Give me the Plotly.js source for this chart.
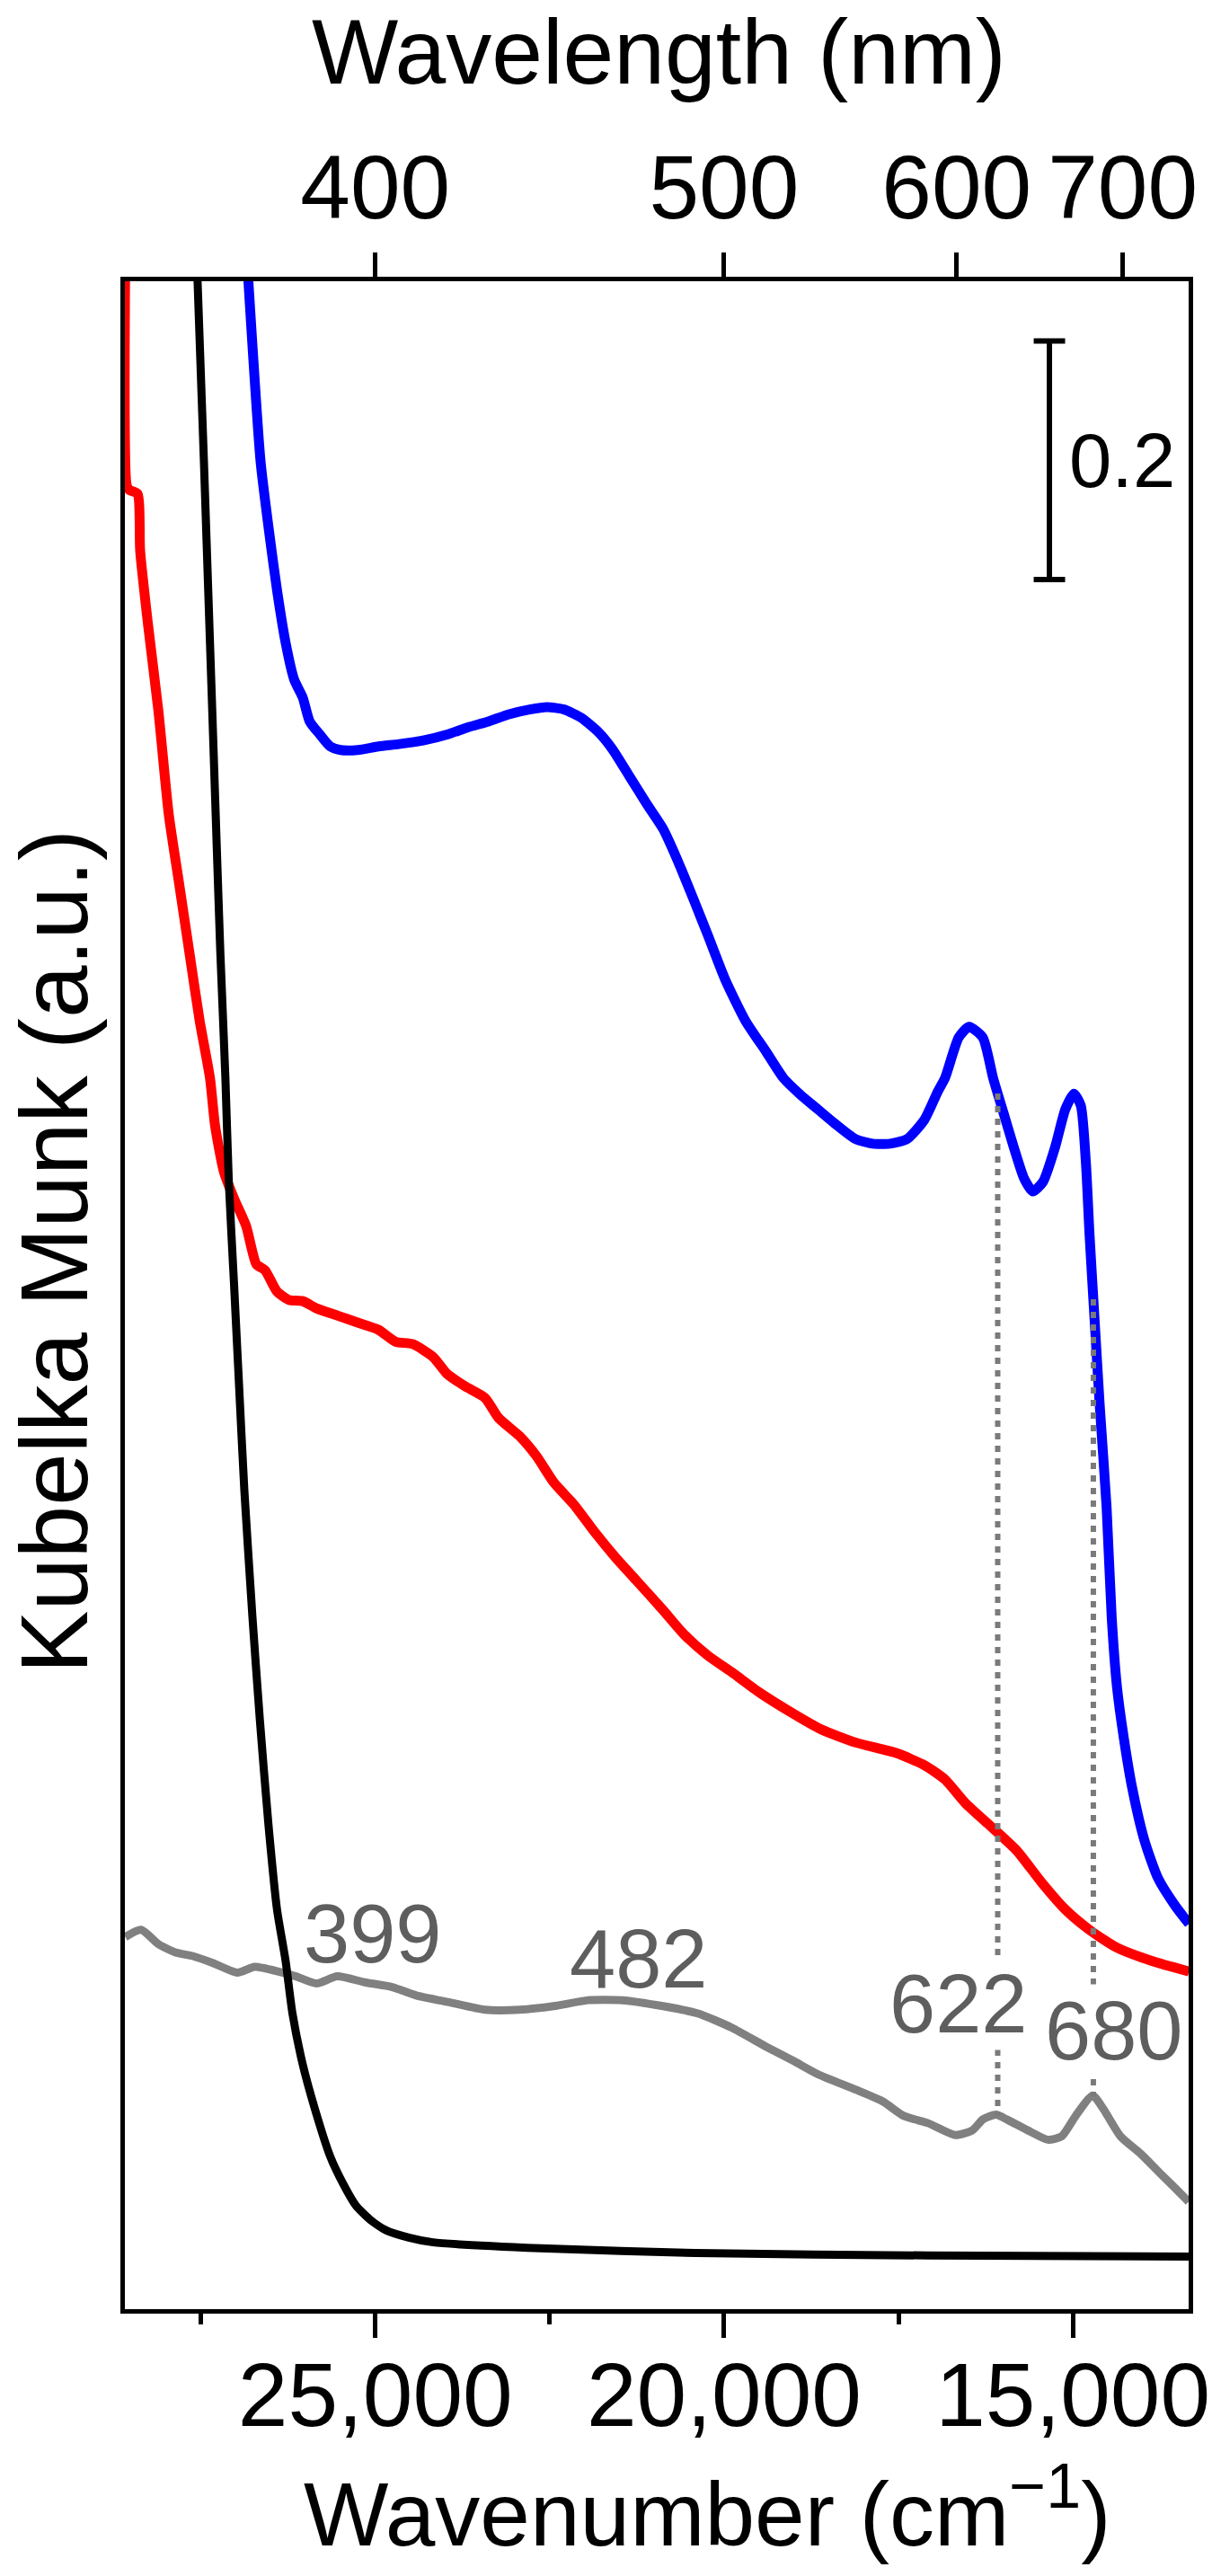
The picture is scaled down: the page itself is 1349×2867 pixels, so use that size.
<!DOCTYPE html>
<html>
<head>
<meta charset="utf-8">
<script src="https://cdn.plot.ly/plotly-3.0.1.min.js"></script>
<style>html,body{margin:0;padding:0;background:#fff;}</style>
</head>
<body>
<div id="chart" style="width:1349px;height:2867px;"></div>
<script>
// ---------- data (wavenumber in cm^-1, Kubelka-Munk in a.u.) ----------
const blueWn = [26830, 26645, 26509, 26409, 26286, 26163, 26040, 25941, 25794, 25646,
  25498, 25252, 24955, 24659, 24315, 23970, 23674, 23378, 23083, 22786,
  22540, 22293, 22047, 21801, 21604, 21357, 21111, 20875, 20678, 20432,
  20234, 19987, 19693, 19396, 19149, 18904, 18660, 18415, 18119, 17869,
  17621, 17375, 17129, 16934, 16833, 16636, 16488, 16291, 16143, 15995,
  15847, 15700, 15576, 15428, 15255, 15107, 14985, 14886, 14812, 14762,
  14689, 14615, 14516, 14443, 14368, 14270, 14146, 13974, 13777, 13531, 13334];
const blueKM = [1.71, 1.549, 1.484, 1.441, 1.397, 1.366, 1.351, 1.331, 1.320, 1.310,
  1.307, 1.307, 1.310, 1.312, 1.315, 1.320, 1.326, 1.331, 1.337, 1.341,
  1.343, 1.341, 1.334, 1.322, 1.308, 1.285, 1.262, 1.241, 1.216, 1.181,
  1.152, 1.115, 1.080, 1.054, 1.032, 1.018, 1.006, 0.994, 0.981, 0.977,
  0.977, 0.981, 0.997, 1.021, 1.032, 1.066, 1.075, 1.066, 1.032, 1.003,
  0.974, 0.948, 0.937, 0.945, 0.974, 1.006, 1.019, 1.009, 0.960, 0.902,
  0.830, 0.758, 0.672, 0.580, 0.522, 0.479, 0.436, 0.393, 0.361, 0.338, 0.323];

const redWn = [28585, 28564, 28526, 28410, 28371, 28258, 28110, 27961, 27815, 27667,
  27518, 27370, 27297, 27173, 27025, 26852, 26706, 26582, 26409, 26237,
  26040, 25843, 25546, 25252, 24955, 24709, 24462, 24167, 23970, 23723,
  23428, 23231, 22934, 22688, 22441, 22146, 21850, 21554, 21259, 20875,
  20579, 20234, 19890, 19494, 19002, 18608, 18115, 17524, 17128, 16833,
  16537, 16143, 15798, 15452, 15107, 14762, 14368, 13876, 13334];
const redKM = [1.72, 1.529, 1.525, 1.522, 1.474, 1.412, 1.340, 1.253, 1.196, 1.138,
  1.080, 1.032, 0.992, 0.954, 0.931, 0.908, 0.876, 0.871, 0.853, 0.846,
  0.845, 0.839, 0.833, 0.827, 0.821, 0.811, 0.809, 0.798, 0.784, 0.774,
  0.764, 0.747, 0.732, 0.715, 0.693, 0.674, 0.651, 0.630, 0.611, 0.586,
  0.566, 0.548, 0.534, 0.517, 0.499, 0.486, 0.475, 0.466, 0.456, 0.444,
  0.424, 0.403, 0.384, 0.358, 0.335, 0.318, 0.303, 0.292, 0.283];

const blackWn = [27560, 27457, 27420, 27370, 27321, 27272, 27222, 27149, 27100, 27025,
  26952, 26877, 26761, 26655, 26533, 26409, 26286, 26188, 26040, 25867,
  25646, 25460, 25280, 25074, 24842, 24520, 24172, 22627, 20405, 17079, 13340];
const blackKM = [1.72, 1.549, 1.484, 1.397, 1.311, 1.224, 1.138, 1.032, 0.945, 0.859,
  0.773, 0.686, 0.580, 0.494, 0.407, 0.335, 0.292, 0.248, 0.205, 0.168,
  0.128, 0.105, 0.087, 0.075, 0.066, 0.060, 0.056, 0.051, 0.047, 0.045, 0.044];

const grayWn = [28585, 28357, 28110, 27864, 27618, 27321, 26976, 26730, 26385, 26139,
  25843, 25546, 25152, 24758, 24413, 23920, 23428, 22934, 22441, 21949,
  21456, 20875, 20382, 19890, 19396, 19002, 18657, 18115, 17721, 17424,
  17079, 16685, 16439, 16291, 16100, 15946, 15650, 15355, 15157, 14960,
  14715, 14565, 14319, 14023, 13752, 13508, 13340];
const grayKM = [0.312, 0.318, 0.306, 0.299, 0.296, 0.290, 0.282, 0.287, 0.283, 0.279,
  0.273, 0.279, 0.274, 0.270, 0.263, 0.257, 0.251, 0.251, 0.254, 0.259,
  0.259, 0.254, 0.248, 0.236, 0.220, 0.208, 0.197, 0.184, 0.174, 0.162,
  0.156, 0.146, 0.150, 0.159, 0.163, 0.159, 0.150, 0.142, 0.145, 0.162,
  0.179, 0.168, 0.145, 0.130, 0.114, 0.100, 0.090];

const peakNm = [399, 482, 622, 680];
const peakLabelKM = [0.315, 0.294, 0.256, 0.2335];
const markedNm = [622, 680];
const topTickNm = [400, 500, 600, 700];
const scaleBarKM = 0.2;

// ---------- helpers ----------
function interp(xs, ys, x) {
  for (let i = 0; i < xs.length - 1; i++) {
    const a = xs[i], b = xs[i + 1];
    if ((x <= a && x >= b) || (x >= a && x <= b)) {
      const t = (x - a) / (b - a);
      return ys[i] + t * (ys[i + 1] - ys[i]);
    }
  }
  return null;
}
const toWn = nm => 1e7 / nm;

const FONT = 'Liberation Sans, Arial, Helvetica, sans-serif';
const xRange = [28590, 13340];
const yRange = [0, 1.7];

// ---------- traces ----------
function curve(x, y, color, width) {
  return {x: x, y: y, mode: 'lines', line: {color: color, width: width, shape: 'spline', smoothing: 0.6},
    showlegend: false, hoverinfo: 'skip'};
}
const traces = [
  curve(grayWn, grayKM, '#808080', 9),
  curve(redWn, redKM, '#ff0000', 11),
  curve(blueWn, blueKM, '#0000ff', 11),
  curve(blackWn, blackKM, '#000000', 9)
];
markedNm.forEach(nm => {
  const wn = toWn(nm);
  traces.push({
    x: [wn, wn],
    y: [interp(blueWn, blueKM, wn), interp(grayWn, grayKM, wn)],
    mode: 'lines',
    line: {color: '#7a7a7a', width: 6, dash: '7px,7px'},
    showlegend: false, hoverinfo: 'skip'
  });
});
// invisible trace bound to the top (wavelength) axis
traces.push({x: [xRange[0]], y: [null], xaxis: 'x2', yaxis: 'y', mode: 'lines', showlegend: false, hoverinfo: 'skip'});

// ---------- annotations ----------
const labelShift = [2, -37, -43, 23];
const annotations = peakNm.map((nm, i) => ({
  x: toWn(nm), y: peakLabelKM[i], xref: 'x', yref: 'y',
  xshift: labelShift[i],
  text: String(nm), showarrow: false,
  xanchor: 'center', yanchor: 'middle',
  font: {family: FONT, size: 92, color: '#5e5e5e'},
  bgcolor: markedNm.includes(nm) ? '#ffffff' : 'rgba(0,0,0,0)',
  borderpad: 0
}));

// scale bar label
const sbX = 15336, sbY0 = 1.45, sbCap = 225;
annotations.push({
  x: sbX, y: sbY0 + scaleBarKM / 2, xref: 'x', yref: 'y', xshift: 20,
  text: String(scaleBarKM), showarrow: false, xanchor: 'left', yanchor: 'middle',
  font: {family: FONT, size: 85, color: '#000'}
});

// axis titles
annotations.push({
  xref: 'paper', yref: 'paper', x: 0.5021, y: 1.1128,
  text: 'Wavelength (nm)', showarrow: false, xanchor: 'center', yanchor: 'middle',
  font: {family: FONT, size: 102, color: '#000'}
});
annotations.push({
  xref: 'paper', yref: 'paper', x: 0.5473, y: -0.0979,
  text: 'Wavenumber (cm<sup>\u22121</sup>)', showarrow: false, xanchor: 'center', yanchor: 'middle',
  font: {family: FONT, size: 100, color: '#000'}
});
annotations.push({
  xref: 'paper', yref: 'paper', x: -0.0662, y: 0.5215,
  text: 'Kubelka Munk (a.u.)', showarrow: false, xanchor: 'center', yanchor: 'middle',
  textangle: -90,
  font: {family: FONT, size: 105, color: '#000'}
});

const shapes = [
  {type: 'line', xref: 'x', yref: 'y', x0: sbX, x1: sbX, y0: sbY0, y1: sbY0 + scaleBarKM, line: {color: '#000', width: 6}},
  {type: 'line', xref: 'x', yref: 'y', x0: sbX + sbCap, x1: sbX - sbCap, y0: sbY0, y1: sbY0, line: {color: '#000', width: 6}},
  {type: 'line', xref: 'x', yref: 'y', x0: sbX + sbCap, x1: sbX - sbCap, y0: sbY0 + scaleBarKM, y1: sbY0 + scaleBarKM, line: {color: '#000', width: 6}}
];

const layout = {
  width: 1349, height: 2867,
  margin: {l: 139, r: 26, t: 313, b: 297, pad: 0},
  paper_bgcolor: '#ffffff', plot_bgcolor: '#ffffff',
  font: {family: FONT, size: 100, color: '#000'},
  showlegend: false,
  xaxis: {
    range: xRange, tickmode: 'linear', tick0: 0, dtick: 5000, tickformat: ',d',
    ticks: 'outside', ticklen: 27, tickwidth: 5, tickcolor: '#000',
    ticklabelstandoff: -22,
    minor: {ticks: 'outside', ticklen: 12, tickwidth: 5, tickcolor: '#000', dtick: 2500, tick0: 0, showgrid: false},
    showline: true, linewidth: 5, linecolor: '#000',
    showgrid: false, zeroline: false,
    tickfont: {family: FONT, size: 100, color: '#000'}
  },
  xaxis2: {
    overlaying: 'x', side: 'top', anchor: 'y',
    range: xRange, tickmode: 'array',
    tickvals: topTickNm.map(toWn), ticktext: topTickNm.map(String),
    ticks: 'outside', ticklen: 27, tickwidth: 5, tickcolor: '#000',
    ticklabelstandoff: -2,
    showline: true, linewidth: 5, linecolor: '#000',
    showgrid: false, zeroline: false,
    tickfont: {family: FONT, size: 100, color: '#000'}
  },
  yaxis: {
    range: yRange, showticklabels: false, ticks: '',
    showline: true, mirror: true, linewidth: 5, linecolor: '#000',
    showgrid: false, zeroline: false
  },
  annotations: annotations,
  shapes: shapes
};

Plotly.newPlot('chart', traces, layout, {staticPlot: true, displayModeBar: false});
</script>
</body>
</html>
